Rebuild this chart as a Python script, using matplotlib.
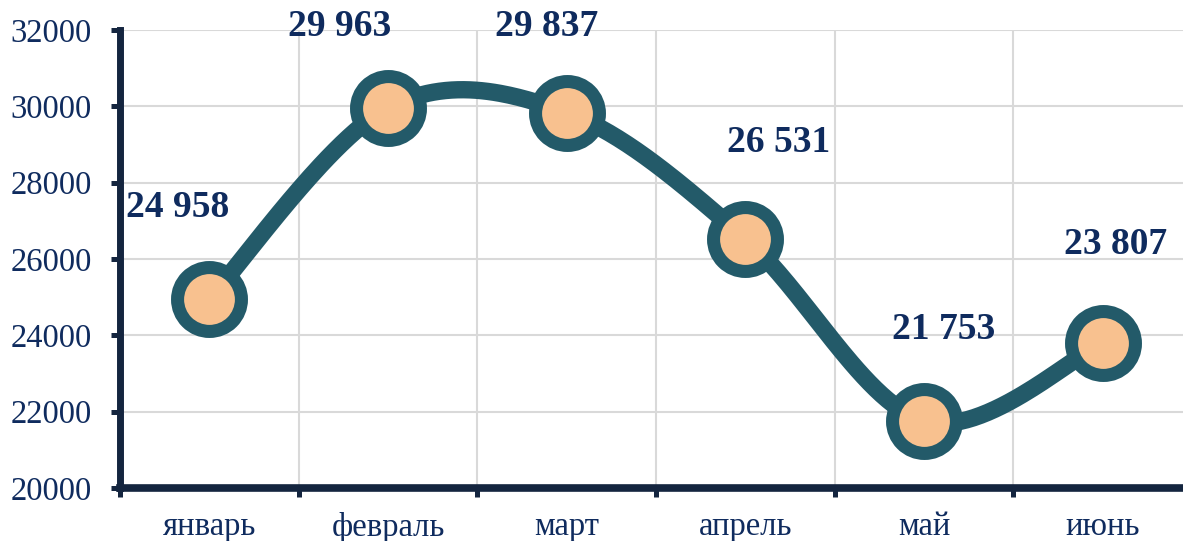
import numpy as np
import matplotlib
matplotlib.use("Agg")
import matplotlib.pyplot as plt
from matplotlib.ticker import MultipleLocator, FixedLocator, NullFormatter, FixedFormatter

months = ["январь", "февраль", "март", "апрель", "май", "июнь"]
values = [24958, 29963, 29837, 26531, 21753, 23807]
value_labels = ["24 958", "29 963", "29 837", "26 531", "21 753", "23 807"]
y_min, y_max, y_step = 20000, 32000, 2000

# label offsets in pixels (dx, dy) relative to the point
label_offsets = [(-32, 91), (-48, 81), (-20, 86), (33, 96), (20, 92), (13, 98)]

LINE = "#235A69"
FILL = "#F8C18F"
NAVY = "#0F2B5E"
SPINE = "#14253F"
GRID = "#D9D9D9"

plt.rcParams["font.family"] = ["Liberation Serif", "DejaVu Serif"]

fig = plt.figure(figsize=(11.83, 5.41), dpi=100)
W, H = 1183, 541
left, right, top, bottom = 120, 1192, 30, 488
ax = fig.add_axes([left / W, 1 - bottom / H, (right - left) / W, (bottom - top) / H])

n = len(values)
xs = np.arange(n) + 0.5
pts = np.column_stack([xs, np.array(values, dtype=float)])

# Excel-like smoothed line (Catmull-Rom via cubic Bezier)
curve = []
t = np.linspace(0, 1, 60)[:, None]
for i in range(n - 1):
    p0 = pts[i]
    p3 = pts[i + 1]
    pm = pts[i - 1] if i > 0 else pts[i]
    pp = pts[i + 2] if i + 2 < n else pts[i + 1]
    c1 = p0 + (p3 - pm) / 6
    c2 = p3 - (pp - p0) / 6
    seg = (1 - t) ** 3 * p0 + 3 * (1 - t) ** 2 * t * c1 + 3 * (1 - t) * t ** 2 * c2 + t ** 3 * p3
    curve.append(seg if i == 0 else seg[1:])
curve = np.vstack(curve)

ax.plot(curve[:, 0], curve[:, 1], color=LINE, lw=12.5, solid_capstyle="round", zorder=3, clip_on=False)
ax.plot(xs, values, linestyle="none", marker="o", markersize=46,
        markerfacecolor=FILL, markeredgecolor=LINE, markeredgewidth=9.4, zorder=4, clip_on=False)

for x, v, lab, (dx, dy) in zip(xs, values, value_labels, label_offsets):
    ax.annotate(lab, (x, v), xytext=(dx * 0.72, dy * 0.72), textcoords="offset points",
                ha="center", va="center", fontsize=27, fontweight="bold", color=NAVY,
                zorder=5, annotation_clip=False)

ax.set_xlim(0, n)
ax.set_ylim(y_min, y_max)
ax.yaxis.set_major_locator(MultipleLocator(y_step))
ax.xaxis.set_major_locator(FixedLocator(np.arange(n + 1)))
ax.xaxis.set_major_formatter(NullFormatter())
ax.xaxis.set_minor_locator(FixedLocator(xs))
ax.xaxis.set_minor_formatter(FixedFormatter(months))

ax.grid(True, which="major", color=GRID, lw=1.5, zorder=0)
ax.set_axisbelow(True)

for s in ["top", "right"]:
    ax.spines[s].set_visible(False)
ax.spines["left"].set_linewidth(5)
ax.spines["bottom"].set_linewidth(5.5)
ax.spines["left"].set_color(SPINE)
ax.spines["bottom"].set_color(SPINE)
ax.spines["left"].set_capstyle("projecting")

ax.tick_params(axis="both", which="major", direction="out", length=6.5, width=3.6, color=SPINE)
ax.tick_params(axis="y", labelsize=23.5, labelcolor=NAVY, pad=14)
ax.tick_params(axis="x", which="minor", length=0, labelsize=23.5, labelcolor=NAVY, pad=17)

fig.savefig("out.png", dpi=100)
